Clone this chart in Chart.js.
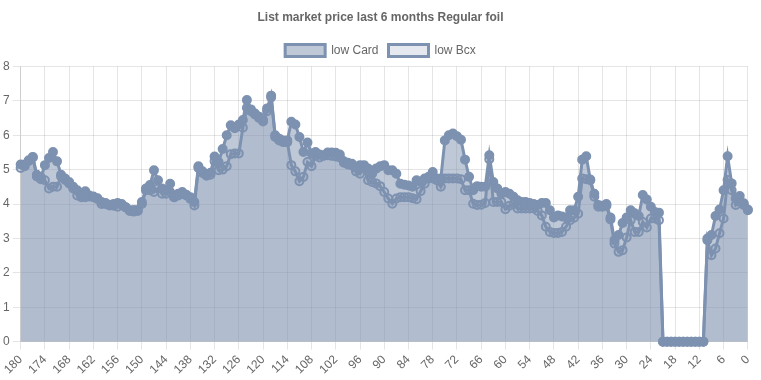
<!DOCTYPE html>
<html>
<head>
<meta charset="utf-8">
<title>List market price</title>
<script src="https://cdn.jsdelivr.net/npm/chart.js@4.4.1/dist/chart.umd.min.js"></script>
<style>
    body { margin: 0; background: #ffffff; }
    #chart-box { width: 761px; height: 380px; position: relative; }
</style>
</head>
<body>
<div id="chart-box"><canvas id="price-chart"></canvas></div>
<script>
// days before today, 180 -> 0
const dayLabels = Array.from({ length: 181 }, (_, i) => 180 - i);

// low Card price per day
const lowCard = [
    5.15, 5.15, 5.27, 5.37, 4.85, 4.78, 5.13, 5.34, 5.51, 5.24,
    4.85, 4.74, 4.64, 4.50, 4.40, 4.25, 4.37, 4.25, 4.22, 4.17,
    4.06, 4.03, 3.98, 4.00, 4.03, 4.00, 3.91, 3.82, 3.83, 3.83,
    4.06, 4.45, 4.55, 4.98, 4.69, 4.45, 4.40, 4.59, 4.20, 4.30,
    4.35, 4.27, 4.20, 4.06, 5.10, 4.95, 4.85, 4.91, 5.38, 5.22,
    5.60, 6.00, 6.29, 6.20, 6.31, 6.44, 7.02, 6.75, 6.63, 6.54,
    6.44, 6.78, 7.15, 6.00, 5.90, 5.85, 5.85, 6.39, 6.31, 5.95,
    5.51, 5.79, 5.47, 5.51, 5.44, 5.42, 5.50, 5.50, 5.49, 5.44,
    5.24, 5.20, 5.17, 5.05, 5.13, 5.13, 5.03, 4.88, 5.03, 5.10,
    5.13, 4.98, 4.98, 4.88, 4.59, 4.56, 4.54, 4.50, 4.69, 4.64,
    4.74, 4.79, 4.93, 4.74, 4.74, 5.85, 6.00, 6.05, 5.97, 5.87,
    5.29, 4.79, 4.40, 4.52, 4.50, 4.50, 5.42, 4.64, 4.45, 4.30,
    4.35, 4.30, 4.21, 4.11, 4.06, 4.06, 4.03, 4.00, 3.97, 4.03,
    4.03, 3.82, 3.61, 3.67, 3.64, 3.61, 3.82, 3.82, 4.21, 5.29,
    5.39, 4.71, 4.30, 3.97, 3.95, 4.00, 3.61, 2.95, 3.10, 3.45,
    3.61, 3.82, 3.73, 3.65, 4.26, 4.13, 3.92, 3.77, 3.75, 0,
    0, 0, 0, 0, 0, 0, 0, 0, 0, 0,
    3.00, 3.10, 3.65, 3.84, 4.40, 5.39, 4.60, 4.16, 4.23, 4.02,
    3.84
];

// low Bcx price per day
const lowBcx = [
    5.05, 5.10, 5.25, 5.35, 4.80, 4.72, 4.69, 4.45, 4.50, 4.50,
    4.80, 4.70, 4.60, 4.45, 4.25, 4.20, 4.20, 4.22, 4.20, 4.15,
    4.00, 4.00, 3.96, 3.95, 3.92, 3.98, 3.90, 3.80, 3.78, 3.80,
    4.00, 4.40, 4.40, 4.35, 4.45, 4.30, 4.30, 4.35, 4.20, 4.25,
    4.30, 4.25, 4.15, 3.96, 5.05, 4.90, 4.82, 4.85, 5.24, 4.98,
    5.00, 5.10, 5.45, 5.47, 5.47, 6.22, 6.80, 6.70, 6.60, 6.50,
    6.40, 6.70, 7.10, 5.95, 5.85, 5.80, 5.80, 5.13, 4.95, 4.66,
    4.79, 5.22, 5.10, 5.40, 5.35, 5.40, 5.42, 5.40, 5.38, 5.35,
    5.20, 5.15, 5.12, 4.95, 4.88, 5.05, 4.69, 4.64, 4.60, 4.52,
    4.35, 4.16, 4.01, 4.16, 4.20, 4.20, 4.20, 4.17, 4.14, 4.37,
    4.59, 4.74, 4.74, 4.69, 4.50, 4.74, 4.74, 4.74, 4.74, 4.72,
    4.40, 4.40, 4.01, 3.97, 3.98, 4.03, 5.30, 4.06, 4.06, 4.06,
    3.85, 3.95, 4.00, 3.87, 3.87, 3.87, 3.87, 3.87, 3.80, 3.67,
    3.34, 3.19, 3.16, 3.16, 3.19, 3.34, 3.53, 3.60, 3.72, 4.74,
    4.72, 4.69, 4.21, 3.92, 3.92, 3.95, 3.55, 2.85, 2.61, 2.66,
    3.03, 3.53, 3.19, 3.19, 3.48, 3.32, 3.58, 3.58, 3.53, 0,
    0, 0, 0, 0, 0, 0, 0, 0, 0, 0,
    2.95, 2.51, 2.71, 3.15, 3.58, 4.70, 4.40, 3.97, 4.07, 3.97,
    3.82
];

const yTicks = [0, 1, 2, 3, 4, 5, 6, 7, 8];

Chart.defaults.font.family = '"Liberation Sans", Arial, Helvetica, sans-serif';
Chart.defaults.font.size = 12;
Chart.defaults.color = '#666';

const lineColor = 'rgb(125, 145, 176)';

new Chart(document.getElementById('price-chart'), {
    type: 'line',
    data: {
        labels: dayLabels,
        datasets: [
            {
                label: 'low Card',
                data: lowCard,
                borderColor: lineColor,
                backgroundColor: 'rgba(125, 145, 176, 0.5)',
                borderWidth: 3,
                fill: 'origin',
                tension: 0,
                clip: 6,
                pointRadius: 4,
                pointBorderWidth: 2,
                pointBackgroundColor: lineColor,
                pointBorderColor: lineColor
            },
            {
                label: 'low Bcx',
                data: lowBcx,
                borderColor: lineColor,
                backgroundColor: 'rgba(125, 145, 176, 0.2)',
                borderWidth: 3,
                fill: 'origin',
                tension: 0,
                clip: 6,
                pointRadius: 4,
                pointBorderWidth: 2,
                pointBorderColor: lineColor
            }
        ]
    },
    options: {
        responsive: true,
        maintainAspectRatio: false,
        animation: false,
        plugins: {
            title: {
                display: true,
                text: 'List market price last 6 months Regular foil',
                font: { weight: 'bold', size: 12 },
                padding: { top: 10, bottom: 10 }
            },
            legend: {
                display: true,
                position: 'top',
                labels: { boxWidth: 40, boxHeight: 12 }
            },
            tooltip: { enabled: false }
        },
        scales: {
            x: {
                grid: { color: 'rgba(0, 0, 0, 0.1)' },
                ticks: {
                    autoSkip: false,
                    minRotation: 45,
                    maxRotation: 45,
                    // only every 6th day gets a label and a grid line
                    callback: function (value, index) {
                        const day = dayLabels[index];
                        return day % 6 === 0 ? String(day) : null;
                    }
                }
            },
            y: {
                min: yTicks[0],
                max: yTicks[yTicks.length - 1],
                grid: { color: 'rgba(0, 0, 0, 0.1)' },
                ticks: { stepSize: 1 }
            }
        }
    }
});
</script>
</body>
</html>
